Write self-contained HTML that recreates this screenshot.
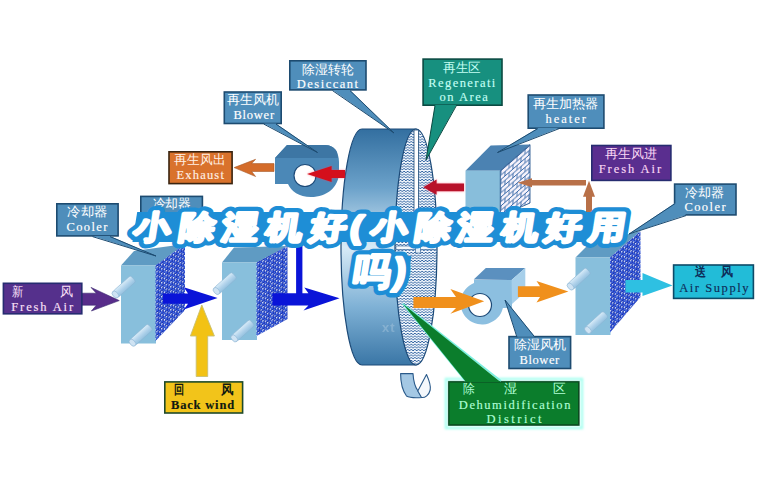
<!DOCTYPE html>
<html><head><meta charset="utf-8">
<style>
html,body{margin:0;padding:0;background:#fff;}
body{width:757px;height:488px;overflow:hidden;position:relative;font-family:"Liberation Sans",sans-serif;}
svg{position:absolute;left:0;top:0;}
.cj{font-family:"Liberation Serif",serif;font-size:13px;}
.lt{font-family:"Liberation Serif",serif;font-size:12.5px;stroke-width:0.15px;}
</style></head>
<body>
<svg width="757" height="488" viewBox="0 0 757 488">
<defs>
  <radialGradient id="sph" cx="0.42" cy="0.42" r="0.58"><stop offset="0" stop-color="#5a88f4"/><stop offset="0.45" stop-color="#2446d4"/><stop offset="1" stop-color="#0a1a88"/></radialGradient>
  <pattern id="mesh" width="4.6" height="4.6" patternUnits="userSpaceOnUse" patternTransform="skewY(-30)">
    <rect width="4.6" height="4.6" fill="#e4f0ff"/>
    <circle cx="1.15" cy="1.15" r="1.75" fill="url(#sph)"/>
    <circle cx="3.45" cy="3.45" r="1.75" fill="url(#sph)"/>
    <circle cx="1.15" cy="1.15" r="1.75" fill="url(#sph)" transform="translate(4.6,0)"/>
    <circle cx="1.15" cy="1.15" r="1.75" fill="url(#sph)" transform="translate(0,4.6)"/>
    <circle cx="1.15" cy="1.15" r="1.75" fill="url(#sph)" transform="translate(4.6,4.6)"/>
  </pattern>
  <pattern id="wave" width="3.6" height="2.7" patternUnits="userSpaceOnUse">
    <rect width="3.6" height="2.7" fill="#f8fbff"/>
    <path d="M0,1.8 Q0.9,0.2 1.8,1.8 T3.6,1.8" fill="none" stroke="#1c5496" stroke-width="0.9"/>
  </pattern>
  <pattern id="brick" width="8" height="8.8" patternUnits="userSpaceOnUse" patternTransform="translate(500,171) skewY(-41)">
    <rect width="8" height="8.8" fill="#f6f2fb"/>
    <path d="M0,0.5H8M0,4.9H8M1,0.5V4.9M5,4.9V9.3" fill="none" stroke="#3a6aa8" stroke-width="0.9"/>
  </pattern>
  <linearGradient id="wheelg" x1="0" y1="0" x2="0" y2="1">
    <stop offset="0" stop-color="#336fa0"/>
    <stop offset="0.25" stop-color="#6ca2ca"/>
    <stop offset="0.5" stop-color="#d8ebf7"/>
    <stop offset="0.75" stop-color="#80b2d6"/>
    <stop offset="1" stop-color="#3a76a6"/>
  </linearGradient>
  <linearGradient id="pipe" x1="0" y1="0" x2="0" y2="1">
    <stop offset="0" stop-color="#d8ecf8"/>
    <stop offset="0.5" stop-color="#b4d4ec"/>
    <stop offset="1" stop-color="#94c2e0"/>
  </linearGradient>
  <filter id="glow" x="-30%" y="-60%" width="160%" height="220%"><feGaussianBlur stdDeviation="1.2"/></filter>
</defs>
<!-- ===== wheel ===== -->
<path d="M362,129 L416,129 L416,365 L362,365 A21,118 0 0 1 362,129 Z" fill="url(#wheelg)" stroke="#1c4a78" stroke-width="1.2"/>
<ellipse cx="416" cy="247" rx="21" ry="118" fill="url(#wave)" stroke="#1c4a78" stroke-width="1.2"/>
<rect x="414" y="130" width="4.5" height="117" fill="#fff" stroke="#1c4a78" stroke-width="0.8"/>
<rect x="396" y="246" width="40.5" height="3.5" fill="#f4f8fc" stroke="#2a5a90" stroke-width="0.6"/>
<rect x="415.5" y="243" width="5" height="10" fill="#e4eef8" stroke="#2a5a90" stroke-width="0.6"/>
<text x="382" y="332" font-family="Liberation Sans, sans-serif" font-weight="bold" font-size="13" fill="#fff" opacity="0.2" letter-spacing="1">xt</text>

<!-- ===== regen blower (fan 1) ===== -->
<path d="M275,158 L287,145 L325,145 C334,145 339,152 339,162 L339,172 C339,187 327,197 311,197 C299,197 291,191 288,184 L275,184 Z" fill="#4b88b7"/>
<path d="M275,158 L287,145 L325,145 C331,145 335,148 337,152 L338,158 Z" fill="#3d76a4"/>
<circle cx="305" cy="175.5" r="11" fill="#fff" stroke="#1c4a78" stroke-width="1.1"/>

<!-- ===== heater ===== -->
<polygon points="465.5,170.7 490.7,145.5 530,144.6 500.3,170.7" fill="#4b82b2"/>
<rect x="465.5" y="170.7" width="35" height="45" fill="#88bedb"/>
<polygon points="500.3,170.7 530,144.6 530,203 500.3,216" fill="url(#brick)" stroke="#2a5a90" stroke-width="0.9"/>

<!-- ===== coolers ===== -->
<polygon points="121,265.5 134,251 185,244 156,265.5" fill="#5f9bc3"/>
<rect x="121" y="265.5" width="35" height="78" fill="#88bfdc"/>
<polygon points="155.5,265.5 185,244 185,310 155.5,341" fill="url(#mesh)"/>

<polygon points="222,262.5 234,247.5 287.5,246 257,262.5" fill="#5f9bc3"/>
<rect x="222" y="262.5" width="35" height="77.5" fill="#88bfdc"/>
<polygon points="256.5,262.5 287.5,246 287.5,319 256.5,336" fill="url(#mesh)"/>

<polygon points="575.5,257.5 589,244 640.5,231 610,257.5" fill="#5f9bc3"/>
<rect x="575.5" y="257.5" width="35" height="77.5" fill="#88bfdc"/>
<polygon points="610,257.5 640.5,231 640.5,297 610,332.5" fill="url(#mesh)"/>

<g>
<g transform="translate(124.3,286.5) rotate(-42)"><rect x="-12" y="-4" width="24" height="8" rx="2" fill="url(#pipe)" stroke="#8cb4d4" stroke-width="0.6"/><ellipse cx="-12" cy="0" rx="2.6" ry="4" fill="#cfe3f3" stroke="#8cb4d4" stroke-width="0.6"/></g>
<g transform="translate(141.4,334.7) rotate(-42)"><rect x="-12" y="-4" width="24" height="8" rx="2" fill="url(#pipe)" stroke="#8cb4d4" stroke-width="0.6"/><ellipse cx="-12" cy="0" rx="2.6" ry="4" fill="#cfe3f3" stroke="#8cb4d4" stroke-width="0.6"/></g>
<g transform="translate(225.4,283) rotate(-42)"><rect x="-12" y="-4" width="24" height="8" rx="2" fill="url(#pipe)" stroke="#8cb4d4" stroke-width="0.6"/><ellipse cx="-12" cy="0" rx="2.6" ry="4" fill="#cfe3f3" stroke="#8cb4d4" stroke-width="0.6"/></g>
<g transform="translate(243.2,330.4) rotate(-42)"><rect x="-12" y="-4" width="24" height="8" rx="2" fill="url(#pipe)" stroke="#8cb4d4" stroke-width="0.6"/><ellipse cx="-12" cy="0" rx="2.6" ry="4" fill="#cfe3f3" stroke="#8cb4d4" stroke-width="0.6"/></g>
<g transform="translate(579.4,278.5) rotate(-42)"><rect x="-12" y="-4" width="24" height="8" rx="2" fill="url(#pipe)" stroke="#8cb4d4" stroke-width="0.6"/><ellipse cx="-12" cy="0" rx="2.6" ry="4" fill="#cfe3f3" stroke="#8cb4d4" stroke-width="0.6"/></g>
<g transform="translate(596.8,322) rotate(-42)"><rect x="-12" y="-4" width="24" height="8" rx="2" fill="url(#pipe)" stroke="#8cb4d4" stroke-width="0.6"/><ellipse cx="-12" cy="0" rx="2.6" ry="4" fill="#cfe3f3" stroke="#8cb4d4" stroke-width="0.6"/></g>
</g>

<!-- ===== dehum blower (fan 2) ===== -->
<path d="M474,280 L512,280 L512,308 L502.9,308 A21.5,21.5 0 1 1 474,283 Z" fill="#8cbfe0"/>
<polygon points="473.7,279.5 485.8,268 525.3,268 511.6,280" fill="#5b90bf"/>
<polygon points="511.6,280 525.3,268 525.3,292 512,304" fill="#a6cfea"/>
<circle cx="480" cy="305" r="11.5" fill="#fff" stroke="#1c4a78" stroke-width="1.2"/>

<!-- ===== arrows ===== -->
<g filter="url(#glow)" opacity="0.55">
<polygon points="345,170 332,170 332,166 307,174 332,182 332,178 345,178" fill="#ff4060"/>
<polygon points="464,183.4 436.6,183.4 436.6,179.5 423.3,187.3 436.6,194.8 436.6,191.3 464,191.3" fill="#ff4060"/>
</g>
<polygon points="345,170 331.6,170 331.6,166 307,174 331.6,182 331.6,178 345,178" fill="#d40f1c"/>
<polygon points="464,183.4 436.6,183.4 436.6,179.5 423.3,187.3 436.6,194.8 436.6,191.3 464,191.3" fill="#b8122a"/>
<polygon points="274,163.6 251.7,163.6 255.6,159.3 234.1,167.6 255.6,176.5 251.7,171.5 274,171.5" fill="#d46c2a" stroke="#a85a2a" stroke-width="0.6" stroke-linejoin="round"/>
<polygon points="586,180.1 532,180.1 532,178.3 517.7,182.7 532,187.2 532,185.5 586,185.5" fill="#b87048"/>
<polygon points="586,215 586,196.8 583,196.8 589,180.7 595,196.8 592,196.8 592,215" fill="#b87048"/>
<polygon points="82,293.2 96.3,293.2 91,287.4 119.3,300.6 91.4,311 96.3,305.2 82,305.2" fill="#582c8a" stroke="#3a2a70" stroke-width="0.6" stroke-linejoin="round"/>
<polygon points="163,293.4 188,293.4 183.8,287.2 217.6,298 183.8,309.4 188,303.8 163,303.8" fill="#0a14d8"/>
<polygon points="272.4,293.3 308.4,293.3 304.3,287.5 339.6,298.2 303.5,310.5 308.4,305.6 272.4,305.6" fill="#0a14d8"/>
<rect x="296.1" y="245" width="6.3" height="49" fill="#0a14d8"/>
<polygon points="196.2,376.5 196.2,336 190.4,336 201.8,305 214.4,336 207.7,336 207.7,376.5" fill="#f2c214" stroke="#c8c070" stroke-width="0.9" stroke-linejoin="round"/>
<polygon points="413.4,296.9 456,296.9 450.4,289 484.2,301.3 450.4,313.7 456,308.1 413.4,308.1" fill="#f0901c"/>
<polygon points="517.9,286.3 540,286.3 536.5,281 568.4,291.5 536.5,302.5 540,296.9 517.9,296.9" fill="#f0901c"/>
<polygon points="625.5,280 642.5,280 642.5,273 672.5,285.5 642.5,296 642.5,292.5 625.5,292.5" fill="#2ec0e2"/>

<!-- green pointer -->


<!-- small curl under wheel -->
<path d="M400.6,373.6 L413,373.6 C413.5,382 415,387 418,391 L422,397.5 C415,398 409,397.5 406.5,396 C402,390 400.6,382 400.6,373.6 Z" fill="#a4c8e4" stroke="#2a5a8a" stroke-width="1.1" stroke-linejoin="round"/>
<path d="M417.8,391 L426.5,374.5 C429,380 431,386 430.2,390 C429,395 425,398 421.5,397.5 Z" fill="#f4f8fc" stroke="#2a5a8a" stroke-width="1.1" stroke-linejoin="round"/>


<g stroke-width="1.6">
<rect x="289.8" y="60.8" width="76.2" height="29.1" fill="#4f8ebb" stroke="#1d4b70"/>
<rect x="224.3" y="92.0" width="56.9" height="31.5" fill="#4f8ebb" stroke="#1d4b70"/>
<rect x="169.0" y="151.8" width="63.1" height="31.8" fill="#d9722c" stroke="#3a2410"/>
<rect x="423.1" y="59.1" width="78.9" height="46.1" fill="#17907f" stroke="#0b4a42"/>
<rect x="528.2" y="95.0" width="75.7" height="33.2" fill="#4f8ebb" stroke="#1d4b70"/>
<rect x="591.8" y="145.5" width="79.1" height="34.9" fill="#5a2e8f" stroke="#262c70"/>
<rect x="674.6" y="184.1" width="61.4" height="30.8" fill="#4f8ebb" stroke="#1d4b70"/>
<rect x="56.8" y="203.8" width="61.3" height="32.1" fill="#4f8ebb" stroke="#1d4b70"/>
<rect x="140.8" y="196.4" width="61.6" height="42.8" fill="#4f8ebb" stroke="#1d4b70"/>
<rect x="3.4" y="283.3" width="78.4" height="30.5" fill="#55308c" stroke="#262c70"/>
<rect x="164.8" y="381.9" width="77.8" height="31.1" fill="#f2c41a" stroke="#1e4a2a"/>
<rect x="509.0" y="336.6" width="61.6" height="31.9" fill="#4f8ebb" stroke="#1d4b70"/>
<rect x="448.7" y="381.7" width="130.2" height="43.4" fill="#0b7d2c" stroke="#064018"/>
<rect x="673.6" y="265.0" width="79.8" height="33.4" fill="#22bcd8" stroke="#0e4a68"/>
</g>
<rect x="446" y="379" width="136" height="49" fill="none" stroke="#a8fff0" stroke-width="2.5" filter="url(#glow)"/>
<polyline points="465.5,381 403,304 501,381" fill="none" stroke="#7af0e0" stroke-width="1.6" stroke-linejoin="round"/>
<polygon points="403,304 466,382 500.5,382" fill="#0b7d2c"/>
<polygon points="332.5,90 394,133 350,90" fill="#4f8ebb"/>
<polyline points="332.5,90.6 394,133 350,90.6" fill="none" stroke="#1d4b70" stroke-width="1" stroke-linejoin="round"/>
<polygon points="263.8,123.5 317.5,152.5 276,123.5" fill="#4f8ebb"/>
<polyline points="263.8,124.1 317.5,152.5 276,124.1" fill="none" stroke="#1d4b70" stroke-width="1" stroke-linejoin="round"/>
<polygon points="435,105 426,160 456.4,105" fill="#17907f"/>
<polyline points="435,105.6 426,160 456.4,105.6" fill="none" stroke="#0b4a42" stroke-width="1" stroke-linejoin="round"/>
<polygon points="537.8,128 497.5,152.5 559.2,128" fill="#4f8ebb"/>
<polyline points="537.8,128.6 497.5,152.5 559.2,128.6" fill="none" stroke="#1d4b70" stroke-width="1" stroke-linejoin="round"/>
<polygon points="675,203 629,234 686,215" fill="#4f8ebb"/>
<polyline points="675,203.6 629,234 686,215.6" fill="none" stroke="#1d4b70" stroke-width="1" stroke-linejoin="round"/>
<polygon points="92.5,236 156,256 110,236" fill="#4f8ebb"/>
<polyline points="92.5,236.6 156,256 110,236.6" fill="none" stroke="#1d4b70" stroke-width="1" stroke-linejoin="round"/>
<polygon points="517,336.8 505,300 535,336.8" fill="#4f8ebb"/>
<polyline points="517,337.40000000000003 505,300 535,337.40000000000003" fill="none" stroke="#1d4b70" stroke-width="1" stroke-linejoin="round"/>
<text class="cj" x="301.9" y="73.5" fill="#ffffff" textLength="51.6" lengthAdjust="spacingAndGlyphs">除湿转轮</text>
<text class="lt" x="296.8" y="88.1" fill="#ffffff" stroke="#ffffff" textLength="61.2" lengthAdjust="spacing">Desiccant</text>
<text class="cj" x="227.4" y="104.0" fill="#ffffff" textLength="51.8" lengthAdjust="spacingAndGlyphs">再生风机</text>
<text class="lt" x="233.4" y="119.0" fill="#ffffff" stroke="#ffffff" textLength="40.7" lengthAdjust="spacing">Blower</text>
<text class="cj" x="174.4" y="163.5" fill="#fff0e4" textLength="51.0" lengthAdjust="spacingAndGlyphs">再生风出</text>
<text class="lt" x="176.4" y="179.2" fill="#fff0e4" stroke="#fff0e4" textLength="47.5" lengthAdjust="spacing">Exhaust</text>
<text class="cj" x="443.2" y="71.5" fill="#c4fff4" textLength="37.7" lengthAdjust="spacingAndGlyphs">再生区</text>
<text class="lt" x="428.2" y="87.1" fill="#c4fff4" stroke="#c4fff4" textLength="67.1" lengthAdjust="spacing">Regenerati</text>
<text class="lt" x="439.5" y="101.0" fill="#c4fff4" stroke="#c4fff4" textLength="48.3" lengthAdjust="spacing">on Area</text>
<text class="cj" x="533.0" y="108.0" fill="#ffffff" textLength="65.5" lengthAdjust="spacingAndGlyphs">再生加热器</text>
<text class="lt" x="545.6" y="122.5" fill="#ffffff" stroke="#ffffff" textLength="40.4" lengthAdjust="spacing">heater</text>
<text class="cj" x="605.0" y="157.5" fill="#fbd8f4" textLength="51.9" lengthAdjust="spacingAndGlyphs">再生风进</text>
<text class="lt" x="598.7" y="172.8" fill="#fbd8f4" stroke="#fbd8f4" textLength="62.4" lengthAdjust="spacing">Fresh Air</text>
<text class="cj" x="685.4" y="197.0" fill="#ffffff" textLength="39.1" lengthAdjust="spacingAndGlyphs">冷却器</text>
<text class="lt" x="684.4" y="210.8" fill="#ffffff" stroke="#ffffff" textLength="41.2" lengthAdjust="spacing">Cooler</text>
<text class="cj" x="67.3" y="216.3" fill="#ffffff" textLength="40.2" lengthAdjust="spacingAndGlyphs">冷却器</text>
<text class="lt" x="66.4" y="231.2" fill="#ffffff" stroke="#ffffff" textLength="41.1" lengthAdjust="spacing">Cooler</text>
<text class="cj" x="152.6" y="207.5" fill="#ffffff" textLength="38.4" lengthAdjust="spacingAndGlyphs">冷却器</text>
<text class="cj" x="11.9" y="295.5" fill="#fbe0f8" textLength="11.3" lengthAdjust="spacingAndGlyphs">新</text>
<text class="cj" x="60.0" y="295.5" fill="#fbe0f8" textLength="13.1" lengthAdjust="spacingAndGlyphs">风</text>
<text class="lt" x="11.3" y="310.5" fill="#fbe0f8" stroke="#fbe0f8" textLength="61.8" lengthAdjust="spacing">Fresh Air</text>
<text class="cj" x="173.5" y="393.5" fill="#101a10" font-weight="bold" textLength="10.1" lengthAdjust="spacingAndGlyphs">回</text>
<text class="cj" x="221.0" y="393.5" fill="#101a10" font-weight="bold" textLength="12.5" lengthAdjust="spacingAndGlyphs">风</text>
<text class="lt" x="171.0" y="408.5" fill="#101a10" stroke="#101a10" font-weight="bold" textLength="63.1" lengthAdjust="spacing">Back wind</text>
<text class="cj" x="513.7" y="349.0" fill="#ffffff" textLength="52.3" lengthAdjust="spacingAndGlyphs">除湿风机</text>
<text class="lt" x="519.6" y="364.0" fill="#ffffff" stroke="#ffffff" textLength="39.6" lengthAdjust="spacing">Blower</text>
<text class="cj" x="463.4" y="393.0" fill="#b0ffd6" textLength="11.9" lengthAdjust="spacingAndGlyphs">除</text>
<text class="cj" x="503.8" y="393.0" fill="#b0ffd6" textLength="13.1" lengthAdjust="spacingAndGlyphs">湿</text>
<text class="cj" x="553.0" y="393.0" fill="#b0ffd6" textLength="12.8" lengthAdjust="spacingAndGlyphs">区</text>
<text class="lt" x="458.8" y="408.7" fill="#b0ffd6" stroke="#b0ffd6" textLength="111.6" lengthAdjust="spacing">Dehumidification</text>
<text class="lt" x="486.6" y="423.1" fill="#b0ffd6" stroke="#b0ffd6" textLength="54.8" lengthAdjust="spacing">District</text>
<text class="cj" x="694.6" y="275.5" fill="#0e2c58" font-weight="bold" textLength="10.9" lengthAdjust="spacingAndGlyphs">送</text>
<text class="cj" x="721.0" y="275.5" fill="#0e2c58" font-weight="bold" textLength="12.0" lengthAdjust="spacingAndGlyphs">风</text>
<text class="lt" x="679.2" y="291.5" fill="#0e2c58" stroke="#0e2c58" textLength="69.3" lengthAdjust="spacing">Air Supply</text>
<!-- ===== title ===== -->
<g font-family="Liberation Sans, sans-serif" font-weight="bold">
<g transform="translate(0,238.5) skewX(-9) translate(0,-238.5)">
<rect x="133" y="212" width="490" height="30" fill="#1e8ed6"/>
<g transform="scale(1.14,1)">
<g fill="#1e8ed6" stroke="#1e8ed6" stroke-width="11.5" stroke-linejoin="round">
<text font-size="31.5" x="116.7 156.1 193.9 232.5 271.1 306.2 324.6 363.2 400 439.5 477.2 515.8" y="238.5">小除湿机好(小除湿机好用</text>
</g>
<g fill="#fff" stroke="#fff" stroke-width="3.0" stroke-linejoin="round">
<text font-size="31.5" x="116.7 156.1 193.9 232.5 271.1 306.2 324.6 363.2 400 439.5 477.2 515.8" y="238.5">小除湿机好(小除湿机好用</text>
</g>
</g>
</g>
<g transform="translate(0,284) skewX(-9) translate(0,-284)">
<rect x="355" y="256" width="52" height="30" fill="#1e8ed6"/>
<text font-size="37" x="352 392" y="284" fill="#1e8ed6" stroke="#1e8ed6" stroke-width="11.5" stroke-linejoin="round">吗)</text>
<text font-size="37" x="352 392" y="284" fill="#fff" stroke="#fff" stroke-width="2.8" stroke-linejoin="round">吗)</text>
</g>
</g>

</svg>
</body></html>
